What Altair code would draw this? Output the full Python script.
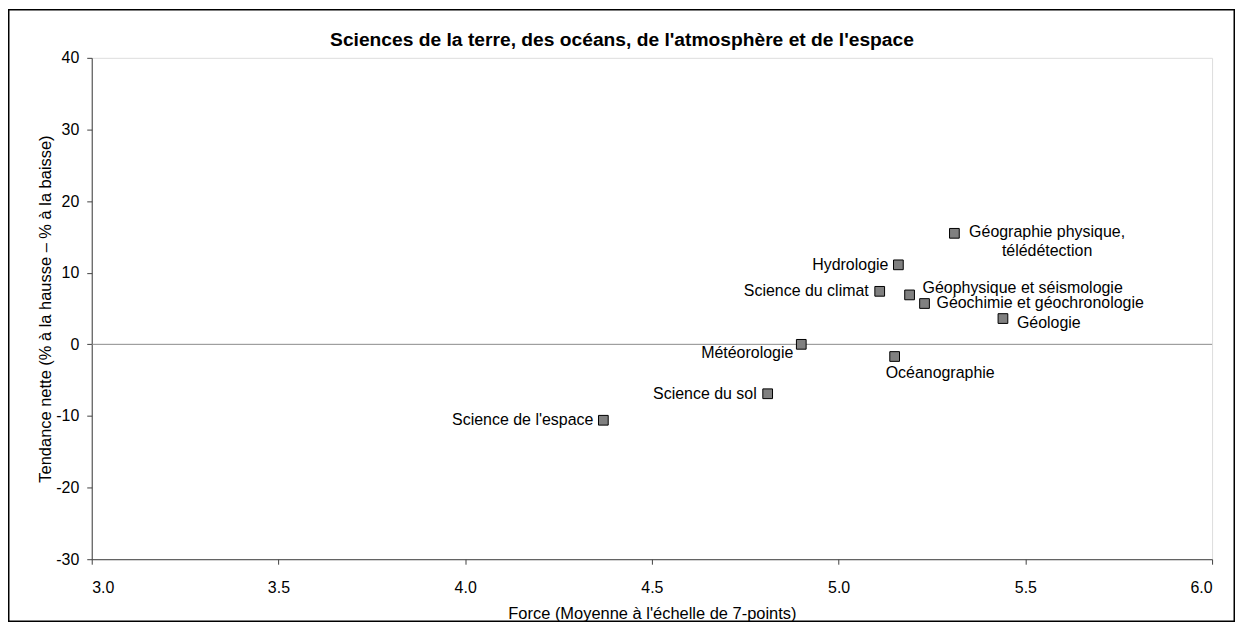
import altair as alt
import pandas as pd

# ---- data ----
categories = [
    "Géographie physique,\ntélédétection",
    "Hydrologie",
    "Science du climat",
    "Géophysique et séismologie",
    "Géochimie et géochronologie",
    "Géologie",
    "Océanographie",
    "Météorologie",
    "Science du sol",
    "Science de l'espace",
]
force = [5.31, 5.16, 5.11, 5.19, 5.23, 5.44, 5.15, 4.90, 4.81, 4.37]
tendance = [15.5, 11.1, 7.4, 6.9, 5.7, 3.6, -1.7, 0.0, -6.9, -10.6]

x_ticks = [3.0, 3.5, 4.0, 4.5, 5.0, 5.5, 6.0]
y_ticks = [-30, -20, -10, 0, 10, 20, 30, 40]

chart_title = "Sciences de la terre, des océans, de l'atmosphère et de l'espace"

df = pd.DataFrame({"cat": categories, "force": force, "tendance": tendance})

FONT = "Liberation Sans"

# label placement (style, not data): align, dx, dy
placement = {
    "Géographie physique,\ntélédétection": ("center", 93, -1),
    "Hydrologie": ("right", -10, 0),
    "Science du climat": ("right", -11, 0),
    "Géophysique et séismologie": ("left", 13, -7),
    "Géochimie et géochronologie": ("left", 12, 0),
    "Géologie": ("left", 14, 4),
    "Océanographie": ("left", -9, 17),
    "Météorologie": ("right", -8, 9),
    "Science du sol": ("right", -11, 0),
    "Science de l'espace": ("right", -10, 0),
}

W, H = 1124, 503
PAD = {"left": 84, "top": 49, "right": 23, "bottom": 63}

x_enc = alt.X(
    "force:Q",
    scale=alt.Scale(domain=[3, 6], nice=False, zero=False),
    axis=alt.Axis(
        values=x_ticks, format=".1f", title="Force (Moyenne à l'échelle de 7-points)",
        grid=False, tickSize=5, labelPadding=15, titlePadding=10,
        domainColor="#404040", tickColor="#404040",
        labelFont=FONT, labelFontSize=16, labelColor="black",
        titleFont=FONT, titleFontSize=16.5, titleFontWeight="normal", titleColor="black",
    ),
)
y_enc = alt.Y(
    "tendance:Q",
    scale=alt.Scale(domain=[-30, 40], nice=False, zero=False),
    axis=alt.Axis(
        values=y_ticks, labelExpr="'' + datum.value",
        title="Tendance nette (% à la hausse – % à la baisse)",
        grid=False, tickSize=5, labelPadding=8, titlePadding=2,
        domainColor="#404040", tickColor="#404040",
        labelFont=FONT, labelFontSize=16, labelColor="black",
        titleFont=FONT, titleFontSize=16.5, titleFontWeight="normal", titleColor="black",
    ),
)

base = alt.Chart(df)

points = base.mark_square(
    size=95, filled=True, fill="#808080", stroke="black", strokeWidth=1, opacity=1
).encode(x=x_enc, y=y_enc)

one = pd.DataFrame({"z": [0]})

zero_rule = alt.Chart(one).mark_rule(
    color="#8c8c8c", strokeWidth=1
).encode(y=alt.datum(0))

frame = alt.Chart(one).mark_rect(
    fill=None, filled=False, stroke="black", strokeWidth=1.5
).encode(
    x=alt.value(-PAD["left"] + 0.75),
    x2=alt.value(W + PAD["right"] - 0.75),
    y=alt.value(-PAD["top"] + 0.75),
    y2=alt.value(H + PAD["bottom"] - 0.75),
)

title_text = alt.Chart(one).mark_text(
    font=FONT, fontSize=19.3, fontWeight="bold", color="black",
    align="center", baseline="middle",
).encode(
    x=alt.value(532),
    y=alt.value(-18),
    text=alt.value(chart_title),
)

label_layers = []
for name, (align, dx, dy) in placement.items():
    label_layers.append(
        base.transform_filter(alt.datum.cat == name)
        .mark_text(
            align=align, baseline="middle", dx=dx, dy=dy,
            font=FONT, fontSize=16, color="black", lineBreak="\n", lineHeight=18.5,
        )
        .encode(x=x_enc, y=y_enc, text="cat:N")
    )

chart = alt.layer(zero_rule, points, *label_layers, frame, title_text).properties(
    width=W,
    height=H,
    autosize=alt.AutoSizeParams(type="none"),
    padding=PAD,
).configure_view(stroke="#999999", strokeWidth=1).configure(background="white")

chart.save("out.html", embed_options={"renderer": "svg", "actions": False})
